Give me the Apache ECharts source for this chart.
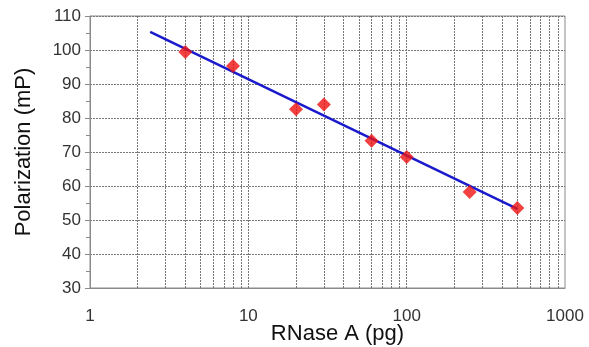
<!DOCTYPE html>
<html>
<head>
<meta charset="utf-8">
<script src="https://cdn.jsdelivr.net/npm/echarts@6/dist/echarts.min.js"></script>
<style>
  html, body { margin: 0; padding: 0; background: #fff; }
  #chart { width: 589px; height: 347px; }
</style>
</head>
<body>
<div id="chart"></div>
<script>
  // measured points (RNase A pg, polarization mP)
  var amounts = [4, 8, 20, 30, 60, 100, 250, 500]
  var polarization = [99.4, 95.3, 82.6, 84.0, 73.3, 68.5, 58.2, 53.5]
  // fitted line end points
  var fitLine = [[2.4, 105.3], [500, 53.3]]
  // minor log grid positions
  var minorGrid = [2, 3, 4, 5, 6, 7, 8, 9, 10, 20, 30, 40, 50, 60, 70, 80, 90, 100, 200, 300, 400, 500, 600, 700, 800, 900]

  var points = []
  for (var i = 0; i < amounts.length; i++) {
    points.push([amounts[i], polarization[i]])
  }
  var gridLines = []
  for (var j = 0; j < minorGrid.length; j++) {
    gridLines.push({ xAxis: minorGrid[j] })
  }

  var fontFam = '"Liberation Sans", Arial, sans-serif'
  var myChart = echarts.init(document.getElementById('chart'))
  myChart.setOption({
    animation: false,
    grid: {
      left: 90, right: 24, top: 16, bottom: 59,
      outerBoundsMode: 'none',
      containLabel: false,
      show: true, borderColor: '#8a8a8a', borderWidth: 1
    },
    xAxis: {
      type: 'log',
      logBase: 10,
      min: 1,
      max: 1000,
      name: 'RNase A (pg)',
      nameLocation: 'middle',
      nameGap: 35,
      nameMoveOverlap: false,
      nameTextStyle: { fontFamily: fontFam, fontSize: 22, color: '#111', padding: [0, 0, 0, 20] },
      axisLine: { lineStyle: { color: '#8a8a8a' } },
      axisTick: { show: false },
      axisLabel: {
        fontFamily: fontFam, fontSize: 17, color: '#333', margin: 20,
        formatter: function (v) { return String(v) }
      },
      splitLine: { show: false }
    },
    yAxis: {
      type: 'value',
      min: 30,
      max: 110,
      interval: 10,
      name: 'Polarization (mP)',
      nameLocation: 'middle',
      nameGap: 55,
      nameMoveOverlap: false,
      nameTextStyle: { fontFamily: fontFam, fontSize: 22, color: '#111' },
      axisLine: { show: true, lineStyle: { color: '#8a8a8a' } },
      axisTick: { show: true, length: 5, lineStyle: { color: '#8a8a8a' } },
      minorTick: { show: true, splitNumber: 2, length: 4, lineStyle: { color: '#8a8a8a' } },
      axisLabel: { fontFamily: fontFam, fontSize: 17, color: '#333', margin: 9 },
      splitLine: { show: true, lineStyle: { color: '#777', type: [2, 1], width: 1 } }
    },
    series: [
      {
        type: 'scatter',
        data: points,
        symbol: 'diamond',
        symbolSize: 14,
        itemStyle: { color: '#ee1111' },
        z: 5,
        markLine: {
          silent: true,
          symbol: 'none',
          label: { show: false },
          lineStyle: { color: '#777', type: [2, 1], width: 1 },
          data: gridLines,
          z: 1
        }
      },
      {
        type: 'line',
        data: fitLine,
        symbol: 'none',
        lineStyle: { color: '#1a1acc', width: 2.5 },
        z: 4
      }
    ]
  })
</script>
</body>
</html>
